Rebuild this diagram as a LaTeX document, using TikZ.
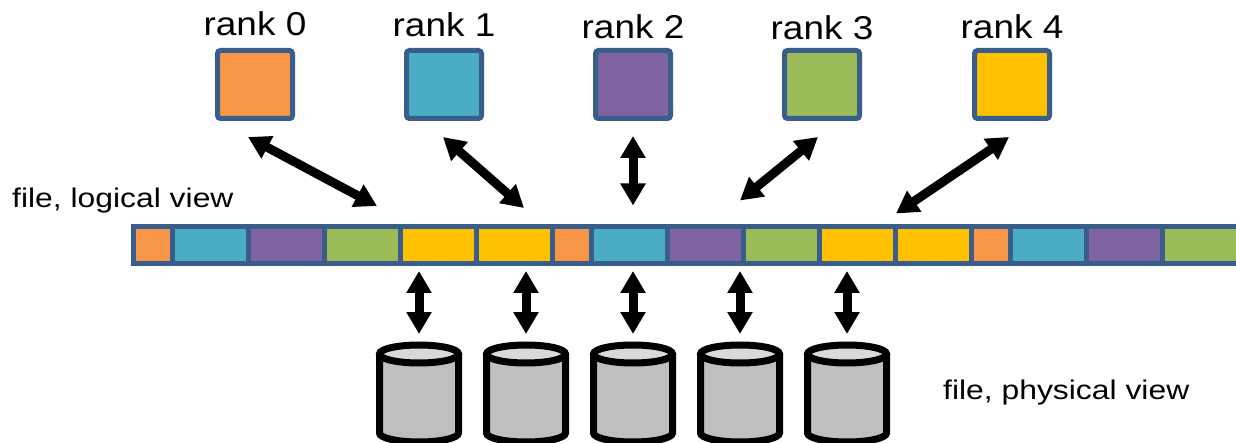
\documentclass[tikz,border=0pt]{standalone}
\usepackage{fontspec}
\setmainfont{Liberation Sans}
\usetikzlibrary{arrows.meta,calc}

\definecolor{rkorange}{HTML}{F79646}
\definecolor{rkaqua}{HTML}{4BACC6}
\definecolor{rkpurple}{HTML}{8064A2}
\definecolor{rkgreen}{HTML}{9BBB59}
\definecolor{rkgold}{HTML}{FFC000}
\definecolor{rkedge}{HTML}{3A5E8B}
\definecolor{diskbody}{HTML}{BFBFBF}
\definecolor{disktop}{HTML}{D9D9D9}

\tikzset{
  rankbox/.style={draw=rkedge, line width=5pt, rounded corners=3pt, inner sep=0pt,
                  minimum width=75pt, minimum height=68pt},
  cell/.style={draw=rkedge, line width=5pt, inner sep=0pt, minimum height=37pt},
  small/.style={cell, minimum width=39pt},
  wide/.style={cell, minimum width=76pt},
  ranklabel/.style={anchor=base, inner sep=0pt, font=\fontsize{33}{38}\selectfont},
  viewlabel/.style={anchor=base west, inner sep=0pt, font=\fontsize{27}{32}\selectfont},
  dbl/.style={line width=9pt,
              {Triangle[width=24pt,length=22pt]}-{Triangle[width=24pt,length=22pt]}},
  pics/disk/.style={code={
    \fill[diskbody] (-39.5,0) -- (-39.5,-79) arc (180:360:39.5 and 9) -- (39.5,0)
          arc (0:180:39.5 and 9) -- cycle;
    \draw[line width=7pt] (-39.5,0) -- (-39.5,-79) arc (180:360:39.5 and 9) -- (39.5,0);
    \draw[line width=7pt, fill=disktop] (0,0) ellipse (39.5 and 9);
    \coordinate (-top) at (0,9);
  }}
}

\begin{document}
\begin{tikzpicture}[x=1pt, y=1pt]
\useasboundingbox (0,0) rectangle (1236,442);

% process ranks
\node[rankbox, fill=rkorange] (r0) at (255,357.5) {};
\node[rankbox, fill=rkaqua]   (r1) at (444,357.5) {};
\node[rankbox, fill=rkpurple] (r2) at (633,357.5) {};
\node[rankbox, fill=rkgreen]  (r3) at (822,357.5) {};
\node[rankbox, fill=rkgold]   (r4) at (1012,357.5) {};

\node[ranklabel] (l0) at (255,406) {\scalebox{1.12}[1]{rank 0}};
\node[ranklabel] (l1) at (444,405) {\scalebox{1.12}[1]{rank 1}};
\node[ranklabel] (l2) at (633,403) {\scalebox{1.12}[1]{rank 2}};
\node[ranklabel] (l3) at (822,402) {\scalebox{1.12}[1]{rank 3}};
\node[ranklabel] (l4) at (1012,403) {\scalebox{1.12}[1]{rank 4}};

% the file as a strip of blocks
\node[small, fill=rkorange] (c1)  at (153,197)    {};
\node[wide,  fill=rkaqua]   (c2)  at (210.5,197)  {};
\node[wide,  fill=rkpurple] (c3)  at (286.5,197)  {};
\node[wide,  fill=rkgreen]  (c4)  at (362.5,197)  {};
\node[wide,  fill=rkgold]   (c5)  at (438.5,197)  {};
\node[wide,  fill=rkgold]   (c6)  at (514.5,197)  {};
\node[small, fill=rkorange] (c7)  at (572,197)    {};
\node[wide,  fill=rkaqua]   (c8)  at (629.5,197)  {};
\node[wide,  fill=rkpurple] (c9)  at (705.5,197)  {};
\node[wide,  fill=rkgreen]  (c10) at (781.5,197)  {};
\node[wide,  fill=rkgold]   (c11) at (857.5,197)  {};
\node[wide,  fill=rkgold]   (c12) at (933.5,197)  {};
\node[small, fill=rkorange] (c13) at (991,197)    {};
\node[wide,  fill=rkaqua]   (c14) at (1048.5,197) {};
\node[wide,  fill=rkpurple] (c15) at (1124.5,197) {};
\node[wide,  fill=rkgreen]  (c16) at (1200.5,197) {};

\node[viewlabel] (logical) at (12,234) {\scalebox{1.18}[1]{file, logical view}};

% storage targets
\pic (d1) at (419,88) {disk};
\pic (d2) at (526,88) {disk};
\pic (d3) at (633,88) {disk};
\pic (d4) at (740,88) {disk};
\pic (d5) at (847,88) {disk};

\node[viewlabel] (physical) at (943,43) {\scalebox{1.18}[1]{file, physical view}};

% rank <-> file arrows
\coordinate (e0) at ($(c4.north)+(14.5,18)$);
\coordinate (e1) at ($(c6.north)+(9.5,16)$);
\coordinate (e2) at ($(c8.north)+(3.5,18.5)$);
\coordinate (e3) at ($(c10.north)+(-41.5,23.5)$);
\coordinate (e4) at ($(c12.north)+(-37.5,10.5)$);
\draw[dbl] ($(r0.south)+(-7,-16)$) -- (e0);
\draw[dbl] ($(r1.south)+(-1,-16)$) -- (e1);
\draw[dbl] ($(r2.south)+(0,-15)$)  -- (e2);
\draw[dbl] ($(r3.south)+(-4,-16)$) -- (e3);
\draw[dbl] ($(r4.south)+(-3,-16)$) -- (e4);

% file <-> storage arrows
\foreach \d in {d1,d2,d3,d4,d5}
  \draw[dbl] ($(\d-top)+(0,74)$) -- ($(\d-top)+(0,11)$);
\end{tikzpicture}
\end{document}
